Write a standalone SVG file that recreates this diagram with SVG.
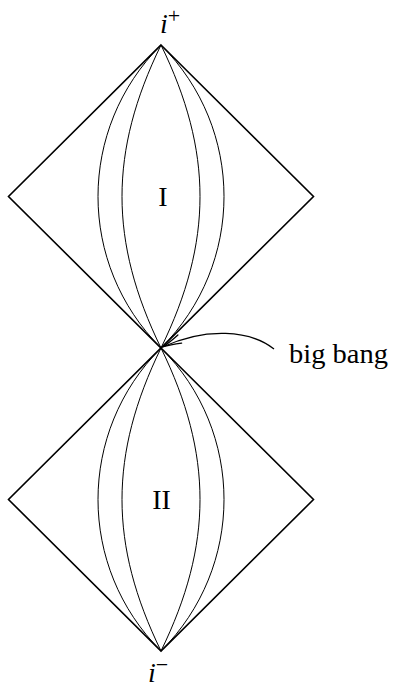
<svg xmlns="http://www.w3.org/2000/svg" width="394" height="689" viewBox="0 0 394 689">
<style>
.dia{fill:none;stroke:#000;stroke-width:1.6;stroke-linejoin:miter}
.cur{fill:none;stroke:#000;stroke-width:1}
.lbl{font-family:"Liberation Serif","DejaVu Serif",serif;fill:#000}
.it{font-style:italic}
</style>
<defs>
<marker id="arr" markerUnits="userSpaceOnUse" markerWidth="30" markerHeight="16" refX="0" refY="0" viewBox="-22 -8 24 16" orient="auto" overflow="visible">
<path d="M-19,-4.5 Q-8,-1 0,0 Q-8,1 -19,4.5" fill="none" stroke="#000" stroke-width="1.3" stroke-linecap="round"/>
</marker>
</defs>
<g id="region-I">
<path class="dia" d="M161,45 L313.5,196.5 L161,348 L8.5,196.5 Z"/>
<path class="cur" d="M161,45 C77,129 77,264 161,348"/>
<path class="cur" d="M161,45 C109,151.6 109,241.4 161,348"/>
<path class="cur" d="M161,45 C213,151.6 213,241.4 161,348"/>
<path class="cur" d="M161,45 C245,129 245,264 161,348"/>
<text class="lbl" x="163" y="206" font-size="28" text-anchor="middle">I</text>
</g>
<g id="region-II">
<path class="dia" d="M161,348 L313.5,499.5 L161,651 L8.5,499.5 Z"/>
<path class="cur" d="M161,348 C77,432 77,567 161,651"/>
<path class="cur" d="M161,348 C109,454.6 109,544.4 161,651"/>
<path class="cur" d="M161,348 C213,454.6 213,544.4 161,651"/>
<path class="cur" d="M161,348 C245,432 245,567 161,651"/>
<text class="lbl" x="161.5" y="509" font-size="28" text-anchor="middle">II</text>
</g>
<g id="i-plus">
<text class="lbl" x="160" y="33" font-size="28"><tspan class="it">i</tspan><tspan font-size="22" dy="-10">+</tspan></text>
</g>
<g id="i-minus">
<text class="lbl" x="148" y="682" font-size="28"><tspan class="it">i</tspan><tspan font-size="22" dy="-10">−</tspan></text>
</g>
<g id="big-bang">
<text class="lbl" x="289" y="363" font-size="27" textLength="99" lengthAdjust="spacingAndGlyphs">big bang</text>
</g>
<g id="connectors">
<path d="M274,349 C250,330 206,327 162.5,347" fill="none" stroke="#000" stroke-width="1.3" marker-end="url(#arr)"/>
</g>
</svg>
